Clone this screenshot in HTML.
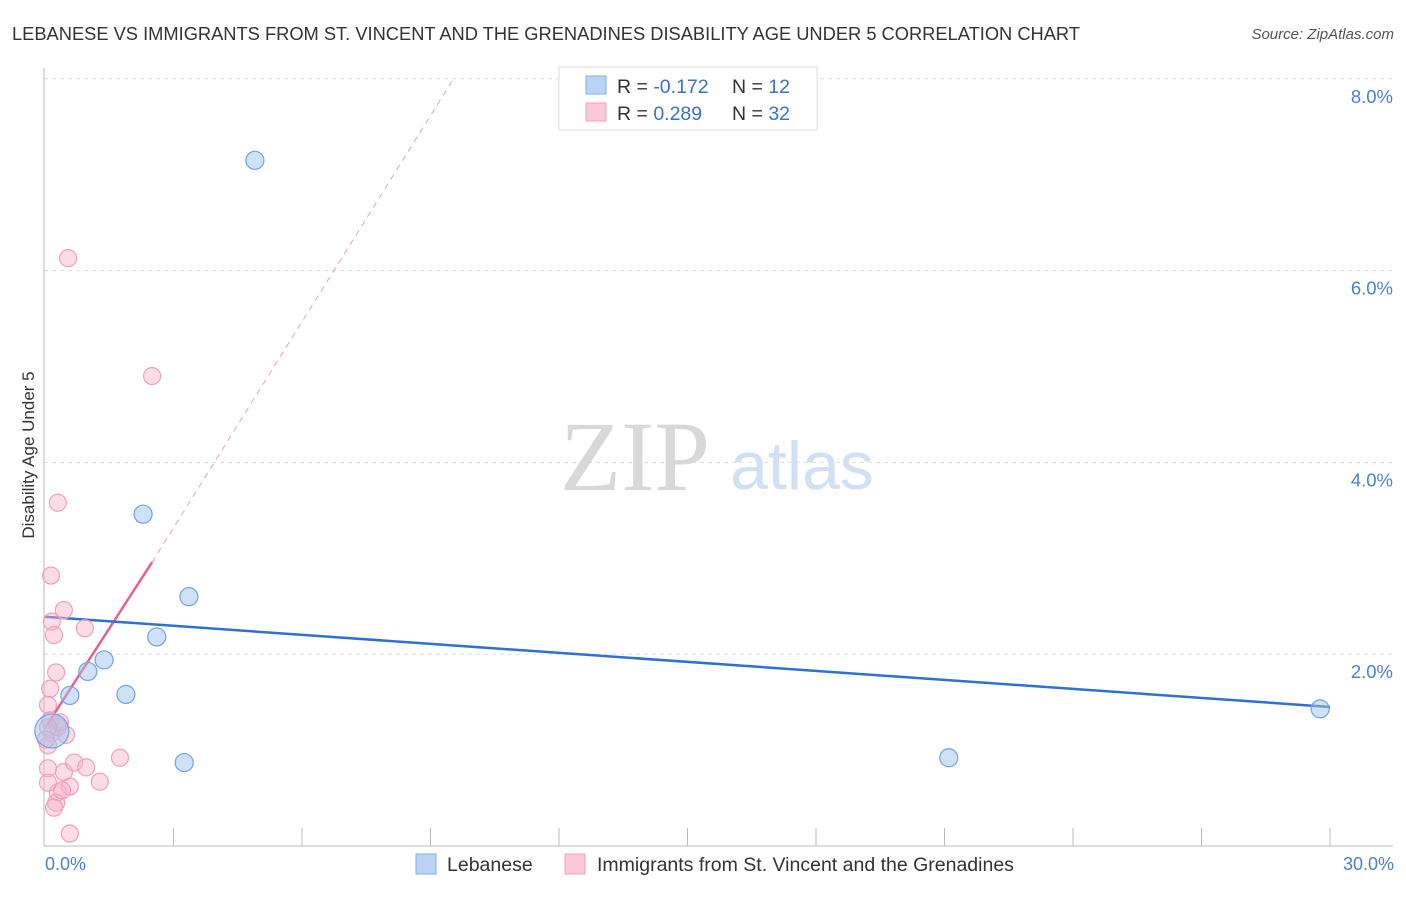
<!DOCTYPE html>
<html><head><meta charset="utf-8"><style>
body{margin:0;background:#fff;font-family:"Liberation Sans",sans-serif;}
</style></head><body>
<svg width="1406" height="892" viewBox="0 0 1406 892" font-family="Liberation Sans, sans-serif">
<text x="12" y="40" font-size="18.3" fill="#333">LEBANESE VS IMMIGRANTS FROM ST. VINCENT AND THE GRENADINES DISABILITY AGE UNDER 5 CORRELATION CHART</text>
<text x="1394" y="39" font-size="15" fill="#555" font-style="italic" text-anchor="end">Source: ZipAtlas.com</text>
<g id="grid"></g>
<text x="635" y="490" font-size="100" fill="#d8d8d8" style="font-family:'Liberation Serif',serif" text-anchor="middle">ZIP</text>
<text x="802" y="489" font-size="68" fill="#d2e0f4" text-anchor="middle">atlas</text>
<line x1="44" y1="68" x2="44" y2="846" stroke="#bbb"/>
<line x1="44" y1="846" x2="1393" y2="846" stroke="#bbb"/>
<text transform="translate(34,455) rotate(-90)" font-size="17" fill="#333" text-anchor="middle">Disability Age Under 5</text>
<text x="45" y="870" font-size="18" fill="#4a7fd6">0.0%</text>
<text x="1394" y="870" font-size="18" fill="#4a7fd6" text-anchor="end">30.0%</text>
<g id="lines"></g>
<g id="pts"></g>
<g>
<rect x="559" y="67" width="258" height="63" fill="#fff" stroke="#ddd"/>
<rect x="586" y="76" width="20" height="18" fill="#bcd4f4" stroke="#7aaee8"/>
<rect x="586" y="103" width="20" height="18" fill="#fac8d6" stroke="#f0a0b8"/>
<text x="617" y="93" font-size="19.5" fill="#333">R = <tspan fill="#3a70d0">-0.172</tspan></text>
<text x="732" y="93" font-size="19.5" fill="#333">N = <tspan fill="#3a70d0">12</tspan></text>
<text x="617" y="120" font-size="19.5" fill="#333">R = <tspan fill="#3a70d0"> 0.289</tspan></text>
<text x="732" y="120" font-size="19.5" fill="#333">N = <tspan fill="#3a70d0">32</tspan></text>
</g>
<g>
<rect x="416" y="854" width="20" height="20" fill="#bcd4f4" stroke="#7aaee8"/>
<text x="447" y="871" font-size="19.5" fill="#333">Lebanese</text>
<rect x="565" y="854" width="20" height="20" fill="#fac8d6" stroke="#f0a0b8"/>
<text x="597" y="871" font-size="19.5" fill="#333">Immigrants from St. Vincent and the Grenadines</text>
</g>
</svg>
<script>
const yTicks=[2,4,6,8];
const xTicks=[3,6,9,12,15,18,21,24,27,30];
const blueX=[0.16,0.58,1.00,1.38,1.89,2.61,2.29,3.36,3.25,4.90,21.1,29.77];
const blueY=[1.20,1.57,1.82,1.94,1.58,2.18,3.46,2.60,0.87,7.15,0.92,1.43];
const pinkX=[0.54,2.50,0.30,0.14,0.44,0.16,0.21,0.93,0.26,0.12,0.07,0.12,0.16,0.07,0.30,0.49,0.35,1.75,0.07,0.44,0.68,0.96,1.28,0.58,0.30,0.07,0.26,0.21,0.58,0.07,0.02,0.40];
const pinkY=[6.13,4.90,3.58,2.82,2.46,2.34,2.20,2.27,1.81,1.64,1.47,1.31,1.18,1.05,1.24,1.16,1.29,0.92,0.81,0.77,0.87,0.82,0.67,0.62,0.56,0.66,0.45,0.40,0.13,1.24,1.11,0.58];
const blueLine=[2.39,1.45];
const pinkLine=[1.23,2.96];
const NS="http://www.w3.org/2000/svg";
const sx=v=>45+v/30*1285, sy=v=>846-v*95.9;
function mk(t,a,p){const e=document.createElementNS(NS,t);for(const k in a)e.setAttribute(k,a[k]);document.getElementById(p).appendChild(e);return e;}
yTicks.forEach(t=>{
 const l=mk('line',{x1:44,x2:1393,y1:sy(t),y2:sy(t),stroke:'#ddd','stroke-dasharray':'4,4'},'grid');
 
 
 const tx=mk('text',{x:1393,y:sy(t)+24,'font-size':18.5,fill:'#4a7fd6','text-anchor':'end'},'grid');
 tx.textContent=t.toFixed(1)+'%';
 
 
});
xTicks.forEach(t=>{
 const l=mk('line',{x1:sx(t),x2:sx(t),y1:828,y2:846,stroke:'#bbb'},'grid');
 
 
});
const ps=(pinkLine[1]-pinkLine[0])/2.5*1.035;
const px2=2.5+(8.0-pinkLine[1])/ps;
let d=mk('line',{x1:sx(2.5),y1:sy(pinkLine[1]),x2:sx(px2),y2:sy(8.0),stroke:'#eaa0b8','stroke-dasharray':'6,5'},'lines');


d=mk('line',{x1:sx(0),y1:sy(pinkLine[0]),x2:sx(2.5),y2:sy(pinkLine[1]),stroke:'#e8608a','stroke-width':2.5},'lines');


d=mk('line',{x1:sx(0),y1:sy(blueLine[0]),x2:sx(30),y2:sy(blueLine[1]),stroke:'#2f6fd6','stroke-width':2.5},'lines');


pinkX.forEach((x,i)=>{
 const c=mk('circle',{cx:sx(x),cy:sy(pinkY[i]),r:8.5,fill:'rgba(248,180,200,0.45)',stroke:'#f0a0b8','stroke-width':1.2},'pts');
 
 
});
blueX.forEach((x,i)=>{
 const c=mk('circle',{cx:sx(x),cy:sy(blueY[i]),r:i===0?17:9,fill:'rgba(160,196,240,0.5)',stroke:'#6fa4e6','stroke-width':1.2},'pts');
 
 
});
</script>
</body></html>
